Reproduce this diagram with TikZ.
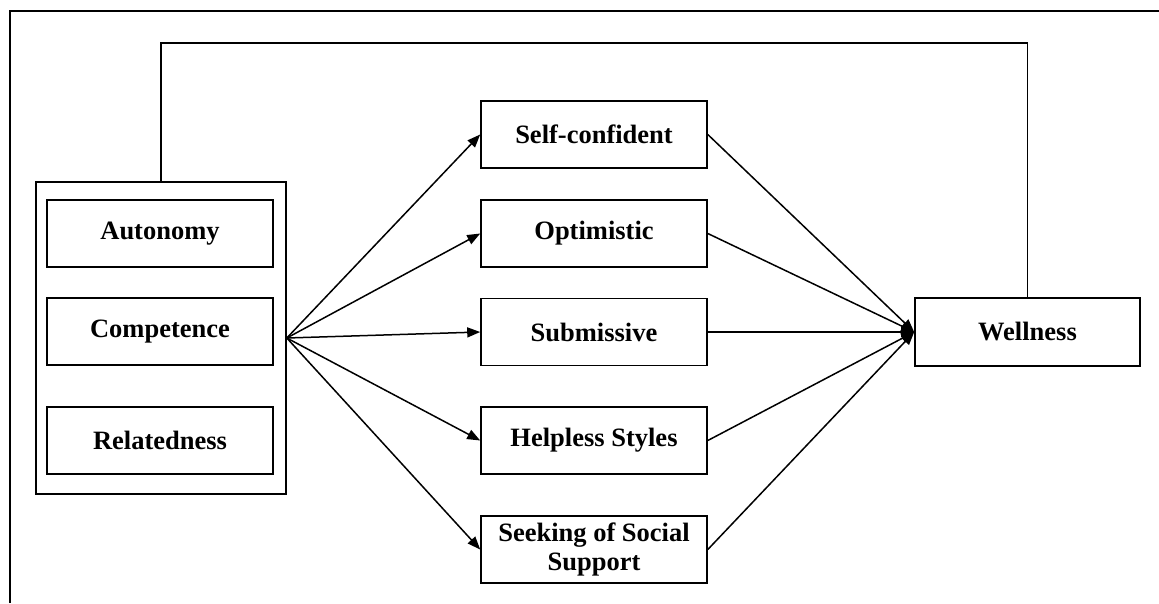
\documentclass[tikz,border=0pt]{standalone}
\usepackage{fontspec}
\setmainfont{Liberation Serif}
\usetikzlibrary{arrows.meta}
\begin{document}
\begin{tikzpicture}[x=1pt,y=-1pt,
  box/.style={draw, line width=1.6pt, rectangle, minimum width=226pt, minimum height=67pt, inner sep=0pt, align=center, font=\bfseries\fontsize{26.5}{29}\selectfont},
  grp/.style={draw, line width=1.6pt, rectangle, minimum width=250pt, minimum height=312pt, inner sep=0pt},
  conn/.style={line width=1.6pt},
  arr/.style={line width=1.5pt, -{Triangle[length=13pt,width=10pt]}}]
\useasboundingbox (0,0) rectangle (1159,603);
\fill[white] (0,0) rectangle (1159,603);
% frame (top and left edges)
\draw[line width=1.8pt] (10,603) -- (10,11) -- (1159,11);
% left group
\node[grp] (group) at (161,338) {};
\node[box] (auto) at (160,233.5) {Autonomy};
\node[box] (comp) at (160,331.5) {Competence};
\node[box] (rel) at (160,440.5) {Relatedness};
% middle
\node[box] (self) at (594,134.5) {Self-confident};
\node[box] (opt) at (594,233.5) {Optimistic};
\node[box] (sub) at (594,332) {Submissive};
\node[box] (help) at (594,440.5) {Helpless Styles};
\node[box] (seek) at (594,549.5) {Seeking of Social\\Support};
% right
\node[box, minimum width=225pt, minimum height=68pt] (well) at (1027.5,332) {Wellness};
% left arrows
\foreach \t in {self,opt,sub,help,seek}
  \draw[arr] (group.east) -- (\t.west);
% right arrows
\foreach \s in {self,opt,sub,help,seek}
  \draw[arr] (\s.east) -- (well.west);
% feedback
\draw[conn] (group.north) -- (group.north |- 0,43) -| (well.north);
\end{tikzpicture}
\end{document}
